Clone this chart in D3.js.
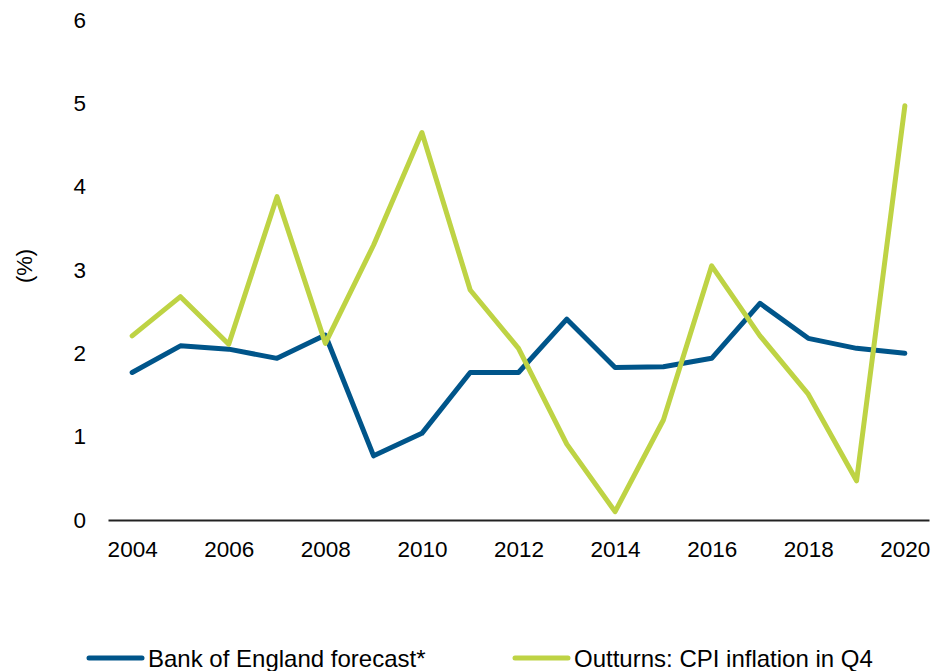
<!DOCTYPE html>
<html>
<head>
<meta charset="utf-8">
<script src="https://cdn.jsdelivr.net/npm/d3@7"></script>
<style>
  body { margin: 0; background: #fff; }
  svg { display: block; font-family: "Liberation Sans", Arial, sans-serif; }
</style>
</head>
<body>
<div id="chart"></div>
<script>
// données
const years = [2004, 2005, 2006, 2007, 2008, 2009, 2010, 2011, 2012, 2013, 2014, 2015, 2016, 2017, 2018, 2019, 2020];
const boeForecast = [1.77, 2.09, 2.05, 1.94, 2.22, 0.77, 1.04, 1.77, 1.77, 2.41, 1.83, 1.84, 1.94, 2.60, 2.18, 2.06, 2.00];
const cpiOutturn = [2.21, 2.68, 2.11, 3.88, 2.12, 3.30, 4.65, 2.76, 2.06, 0.91, 0.10, 1.20, 3.05, 2.21, 1.51, 0.47, 4.97];
const yTicks = [0, 1, 2, 3, 4, 5, 6];
const xTicks = [2004, 2006, 2008, 2010, 2012, 2014, 2016, 2018, 2020];

const width = 932, height = 671;
const blue = "#00558a", green = "#bed344";

let svg = d3.select("#chart").append("svg")
    .attr("width", width)
    .attr("height", height);

let x = d3.scalePoint()
    .domain(years)
    .range([108, 929])
    .padding(0.5);

let y = d3.scaleLinear()
    .domain([0, 6])
    .range([520, 20]);

// axe Y (sans ligne)
let yAxis = svg.append("g")
    .attr("transform", "translate(108,0)")
    .call(d3.axisLeft(y).tickValues(yTicks).tickSize(0).tickPadding(22).tickFormat(d3.format("d")));
yAxis.select(".domain").remove();
yAxis.selectAll("text")
    .style("font-size", "22.5px")
    .attr("fill", "#000");

// axe X
let xAxis = svg.append("g")
    .attr("transform", "translate(0,520)")
    .call(d3.axisBottom(x).tickValues(xTicks).tickSize(0).tickPadding(21));
xAxis.select(".domain")
    .attr("stroke", "#222")
    .attr("stroke-width", 2);
xAxis.selectAll("text")
    .style("font-size", "22.5px")
    .attr("fill", "#000");

// label axe Y
svg.append("text")
    .attr("transform", "translate(32,266) rotate(-90)")
    .attr("text-anchor", "middle")
    .style("font-size", "22px")
    .text("(%)");

let line = d3.line()
    .x((d, i) => x(years[i]))
    .y(d => y(d));

svg.append("path")
    .datum(boeForecast)
    .attr("fill", "none")
    .attr("stroke", blue)
    .attr("stroke-width", 5)
    .attr("stroke-linejoin", "round")
    .attr("stroke-linecap", "round")
    .attr("d", line);

svg.append("path")
    .datum(cpiOutturn)
    .attr("fill", "none")
    .attr("stroke", green)
    .attr("stroke-width", 5)
    .attr("stroke-linejoin", "round")
    .attr("stroke-linecap", "round")
    .attr("d", line);

// légende
const legendItems = [
    { label: "Bank of England forecast*", color: blue, x0: 89 },
    { label: "Outturns: CPI inflation in Q4", color: green, x0: 515 }
];
let legend = svg.append("g");
legendItems.forEach(item => {
    legend.append("line")
        .attr("x1", item.x0)
        .attr("x2", item.x0 + 53)
        .attr("y1", 658)
        .attr("y2", 658)
        .attr("stroke", item.color)
        .attr("stroke-width", 5)
        .attr("stroke-linecap", "round");
    legend.append("text")
        .attr("x", item.x0 + 59)
        .attr("y", 667)
        .style("font-size", "24px")
        .text(item.label);
});
</script>
</body>
</html>
